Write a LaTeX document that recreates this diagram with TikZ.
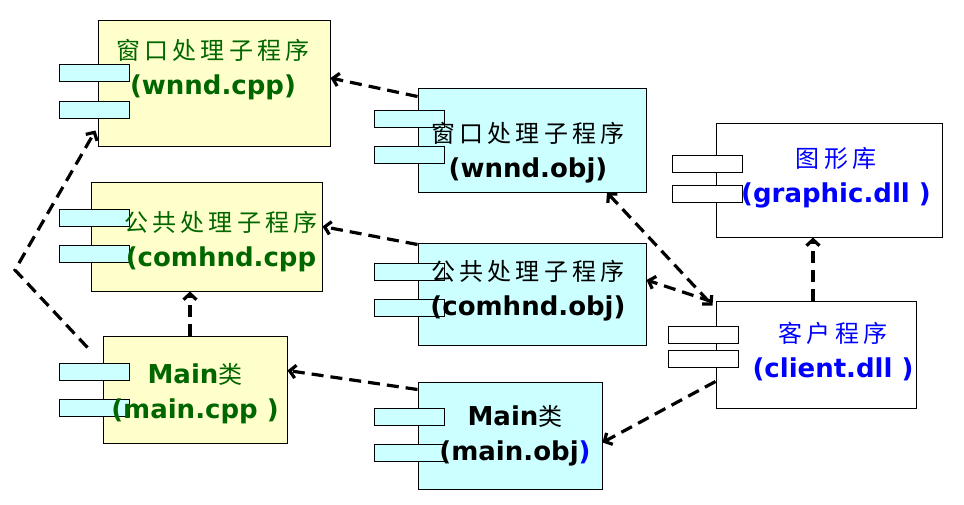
\documentclass[tikz,border=0pt]{standalone}
\usepackage{fontspec}
\setmainfont{DejaVu Sans}
\newfontfamily\cjk[LetterSpace=18]{Noto Sans CJK SC}
\usetikzlibrary{arrows.meta}
\definecolor{ylw}{HTML}{FFFFCC}
\definecolor{cyn}{HTML}{CCFFFF}
\definecolor{dkgreen}{HTML}{006600}
\newcommand{\zhline}[1]{{\cjk\mdseries\fontsize{24}{35}\selectfont #1}}

\begin{document}
\begin{tikzpicture}[x=1pt,y=-1pt,>={Straight Barb[length=6pt,width=13pt]},
   comp/.style={draw,line width=1pt,inner sep=0pt},
   port/.style={draw,line width=1pt,minimum width=70pt,minimum height=17pt,inner sep=0pt},
   lbl/.style={align=center,inner sep=0pt,font=\fontsize{26}{35}\selectfont\bfseries},
   dep/.style={line width=3.2pt,dash pattern=on 12pt off 7pt,->}]
   \useasboundingbox (0,0) rectangle (964,504);
   % components
   \node[comp,fill=ylw,minimum width=232pt,minimum height=126pt] (wcpp) at (214,83) {};
   \node[comp,fill=cyn,minimum width=228pt,minimum height=104pt] (wobj) at (532,140) {};
   \node[comp,fill=ylw,minimum width=231pt,minimum height=109pt] (ccpp) at (206.5,236.5) {};
   \node[comp,fill=cyn,minimum width=228pt,minimum height=102pt] (cobj) at (532,294) {};
   \node[comp,fill=ylw,minimum width=184pt,minimum height=107pt] (mcpp) at (195,389.5) {};
   \node[comp,fill=cyn,minimum width=184pt,minimum height=107pt] (mobj) at (510,435.5) {};
   \node[comp,fill=white,minimum width=226pt,minimum height=114pt] (gdll) at (829,180) {};
   \node[comp,fill=white,minimum width=200pt,minimum height=107pt] (cdll) at (816,354.5) {};
   % ports
   \node[port,fill=cyn] (wcpp_a) at (94,73) {};
   \node[port,fill=cyn] (wcpp_b) at (94,110) {};
   \node[port,fill=cyn] (wobj_a) at (409,119) {};
   \node[port,fill=cyn] (wobj_b) at (409,154.5) {};
   \node[port,fill=cyn] (ccpp_a) at (94,217.5) {};
   \node[port,fill=cyn] (ccpp_b) at (94,254) {};
   \node[port,fill=cyn] (cobj_a) at (409,272) {};
   \node[port,fill=cyn] (cobj_b) at (409,308) {};
   \node[port,fill=cyn] (mcpp_a) at (94,371.5) {};
   \node[port,fill=cyn] (mcpp_b) at (94,408) {};
   \node[port,fill=cyn] (mobj_a) at (409,416.5) {};
   \node[port,fill=cyn] (mobj_b) at (409,452.5) {};
   \node[port,fill=white] (gdll_a) at (707,164) {};
   \node[port,fill=white] (gdll_b) at (707,193.5) {};
   \node[port,fill=white] (cdll_a) at (703.5,334.5) {};
   \node[port,fill=white] (cdll_b) at (703.5,359) {};
   % labels
   \node[lbl,text=dkgreen] (wcpp_t) at (213,70) {\zhline{窗口处理子程序}\\(wnnd.cpp)};
   \node[lbl] (wobj_t) at (528,153) {\zhline{窗口处理子程序}\\(wnnd.obj)};
   \node[lbl,text=dkgreen] (ccpp_t) at (221,242) {\zhline{公共处理子程序}\\(comhnd.cpp};
   \node[lbl] (cobj_t) at (528,291) {\zhline{公共处理子程序}\\(comhnd.obj)};
   \node[lbl,text=dkgreen] (mcpp_t) at (195,394) {Main\zhline{类}\\(main.cpp )};
   \node[lbl] (mobj_t) at (515,436) {Main\zhline{类}\\(main.obj\textcolor{blue}{)}};
   \node[lbl,text=blue] (gdll_t) at (836,178) {\zhline{图形库}\\(graphic.dll )};
   \node[lbl,text=blue] (cdll_t) at (833,352) {\zhline{客户程序}\\(client.dll )};
   % dependencies
   \coordinate (bend) at (15,270);
   \path[dep]
    ([yshift=-9pt]wobj.north west) edge ([yshift=5pt]wcpp.east)
    ([yshift=-2pt]cobj.north west) edge ([yshift=10pt]ccpp.east)
    ([yshift=-8pt]mobj.north west) edge ([yshift=19pt]mcpp.east)
    ([xshift=-5pt]mcpp.north) edge ([xshift=-5pt]mcpp.north |- ccpp.south)
    ([xshift=-4pt,yshift=-1pt]cdll.north west) edge ([yshift=14pt]cobj.east)
    ([yshift=-27pt]cdll.west) edge ([yshift=-7pt]mobj.east)
    ([xshift=-3pt]cdll.north) edge ([xshift=-3pt]cdll.north |- gdll.south);
   \draw[dep,<->] ([xshift=75pt]wobj.south) -- ([xshift=-3pt,yshift=-5pt]cdll.north west);
   \draw[dep] ([xshift=-15pt,yshift=-12pt]mcpp.north west) -- (bend)
     -- ([xshift=-2pt,yshift=16pt]wcpp.south west);
\end{tikzpicture}
\end{document}
